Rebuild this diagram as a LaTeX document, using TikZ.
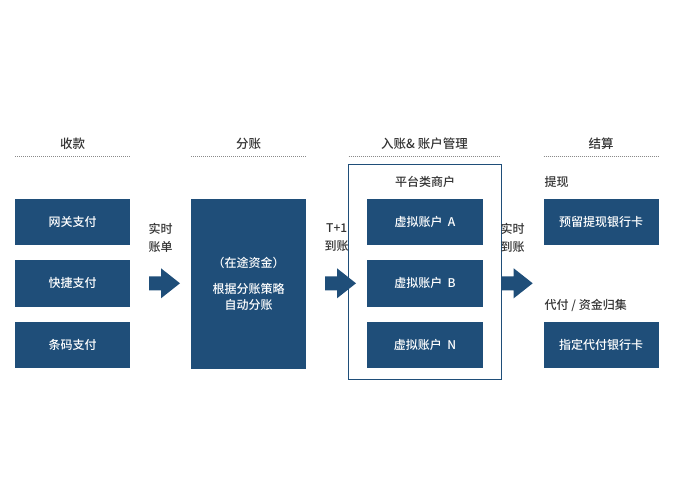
\documentclass[tikz,border=0pt]{standalone}
\usepackage{fontspec}
\setmainfont{Noto Sans CJK SC}[UprightFont={* Medium},BoldFont={* Bold}]
\usetikzlibrary{positioning,calc}
\definecolor{boxblue}{HTML}{1F4E79}
\definecolor{txtgray}{HTML}{333333}
\definecolor{dotgray}{HTML}{8A8A8A}
\begin{document}
\begin{tikzpicture}[x=1pt,y=-1pt,
  bluebox/.style={fill=boxblue,draw=none,text=white,font=\fontsize{12}{15.5}\selectfont,align=center,inner sep=0pt},
  head/.style={text=txtgray,font=\fontsize{12.5}{15}\selectfont,inner sep=0pt},
  lbl/.style={text=txtgray,font=\fontsize{12}{18}\selectfont,align=center,inner sep=0pt},
  dotline/.style={draw=dotgray,line width=0.6pt,dash pattern=on 1pt off 1pt},
  fatarrow/.style={fill=boxblue,draw=none}]
\useasboundingbox (0,0) rectangle (690,502);
% headers
\node[head] (h1) at (72.5,144) {收款};
\node[head] (h2) at (248.5,144) {分账};
\node[head] (h3) at (424.5,144) {入账\&\ 账户管理};
\node[head] (h4) at (601,144) {结算};
\coordinate (d1a) at (15,156); \coordinate (d1b) at (130,156);
\coordinate (d2a) at (191,156); \coordinate (d2b) at (306.5,156);
\coordinate (d3a) at (348.5,156); \coordinate (d3b) at (500,156);
\coordinate (d4a) at (543.5,156); \coordinate (d4b) at (658.5,156);
\draw[dotline] (d1a) -- (d1b);
\draw[dotline] (d2a) -- (d2b);
\draw[dotline] (d3a) -- (d3b);
\draw[dotline] (d4a) -- (d4b);
% left column
\node[bluebox,minimum width=115.5pt,minimum height=46.5pt] (p1) at (72.5,222) {网关支付};
\node[bluebox,minimum width=115.5pt,minimum height=46.5pt] (p2) at (72.5,283.3) {快捷支付};
\node[bluebox,minimum width=115.5pt,minimum height=46.5pt] (p3) at (72.5,345) {条码支付};
% middle box
\node[bluebox,minimum width=115.5pt,minimum height=170pt] (mid) at (248.7,283.7) {};
\node[text=white,font=\fontsize{12}{15.5}\selectfont,inner sep=0pt] (m1) at (248.7,262.7) {（在途资金）};
\node[text=white,font=\fontsize{12}{15.5}\selectfont,inner sep=0pt,align=center] (m2) at (248.7,296.7) {根据分账策略\\自动分账};
% frame
\node[draw=boxblue,line width=0.8pt,minimum width=153.3pt,minimum height=215pt,inner sep=0pt] (frame) at (425,271.8) {};
\node[head,font=\fontsize{12}{15}\selectfont] (plat) at (425,181.7) {平台类商户};
\node[bluebox,minimum width=116.6pt,minimum height=46.5pt] (v1) at (425,222) {虚拟账户\ \ A};
\node[bluebox,minimum width=116.6pt,minimum height=46.5pt] (v2) at (425,283.3) {虚拟账户\ \ B};
\node[bluebox,minimum width=116.6pt,minimum height=46.5pt] (v3) at (425,345) {虚拟账户\ \ N};
% right column
\node[text=txtgray,font=\fontsize{12}{15}\selectfont,inner sep=0pt,anchor=west] (t1) at (544.5,182.3) {提现};
\node[bluebox,minimum width=115pt,minimum height=46.5pt] (b1) at (601,222) {预留提现银行卡};
\node[text=txtgray,font=\fontsize{12}{15}\selectfont,inner sep=0pt,anchor=west] (t2) at (544.5,305) {代付\ /\ 资金归集};
\node[bluebox,minimum width=115pt,minimum height=46.5pt] (b2) at (601,345) {指定代付银行卡};
% labels
\node[lbl] (l1) at (160.7,237.5) {实时\\账单};
\node[lbl] (l2) at (336.7,237.5) {T+1\\到账};
\node[lbl] (l3) at (512.7,237.5) {实时\\到账};
% fat arrows
\foreach \n/\xs in {a1/149, a2/325, a3/501.7}{
  \coordinate (\n s) at (\xs,283.3);
  \fill[fatarrow] ($(\n s)+(0,-7)$) -- ++(12,0) -- ++(0,-8) -- ++(19,15) -- ++(-19,15) -- ++(0,-8) -- ++(-12,0) -- cycle;
}
\end{tikzpicture}
\end{document}
